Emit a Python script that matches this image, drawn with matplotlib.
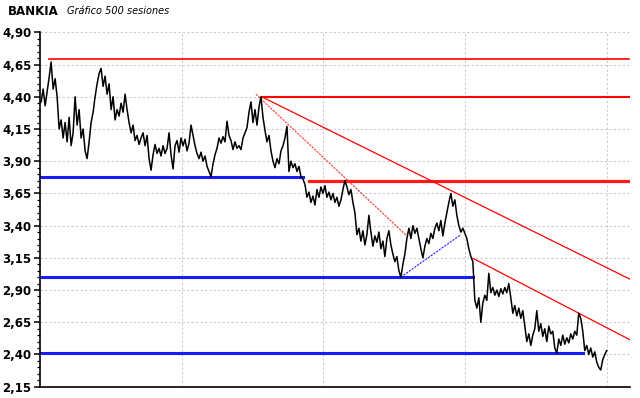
import numpy as np
import matplotlib
matplotlib.use("Agg")
import matplotlib.pyplot as plt
from matplotlib.ticker import FixedLocator, FuncFormatter


# -----------------------------
# DATA
# -----------------------------

close = [
    4.36, 4.46, 4.33, 4.44, 4.55, 4.67, 4.46, 4.54, 4.40, 4.15,
    4.22, 4.08, 4.20, 4.05, 4.24, 4.02, 4.12, 4.40, 4.18, 4.30,
    4.08, 4.15, 3.98, 3.92, 4.05, 4.20, 4.28, 4.40, 4.50, 4.58,
    4.62, 4.48, 4.56, 4.42, 4.50, 4.30, 4.40, 4.22, 4.30, 4.25,
    4.35, 4.28, 4.42, 4.30, 4.20, 4.12, 4.18, 4.06, 4.10, 4.03,
    4.08, 4.12, 4.02, 4.10, 3.92, 3.83, 3.95, 4.03, 3.96, 4.00,
    3.94, 4.02, 3.96, 4.00, 4.12, 3.95, 3.84, 4.02, 4.06, 3.97,
    4.08, 4.02, 4.07, 3.98, 4.04, 4.18, 4.10, 4.02, 3.96, 3.92,
    3.97, 3.90, 3.94, 3.86, 3.82, 3.78, 3.88, 3.95, 4.00, 4.08,
    4.04, 4.09, 4.05, 4.21, 4.10, 4.06, 3.99, 4.05, 4.00, 4.02,
    3.99, 4.08, 4.12, 4.16, 4.28, 4.36, 4.20, 4.30, 4.18, 4.32,
    4.40, 4.24, 4.14, 4.05, 4.10, 3.98, 3.90, 3.85, 3.92, 3.88,
    3.98, 4.02, 4.08, 4.17, 3.82, 3.90, 3.85, 3.88, 3.82, 3.86,
    3.78, 3.76, 3.72, 3.62, 3.66, 3.58, 3.63, 3.56, 3.68, 3.62,
    3.70, 3.65, 3.71, 3.62, 3.66, 3.60, 3.65, 3.58, 3.62, 3.55,
    3.60, 3.68, 3.75, 3.70, 3.64, 3.68, 3.58, 3.50, 3.33, 3.38,
    3.28, 3.36, 3.25, 3.33, 3.48, 3.35, 3.24, 3.32, 3.27, 3.35,
    3.22, 3.28, 3.16, 3.30, 3.36, 3.25, 3.18, 3.12, 3.16, 3.05,
    3.00, 3.10, 3.18, 3.30, 3.38, 3.30, 3.40, 3.34, 3.38, 3.30,
    3.22, 3.15, 3.24, 3.30, 3.26, 3.34, 3.30, 3.38, 3.42, 3.36,
    3.44, 3.32, 3.42, 3.50, 3.58, 3.65, 3.55, 3.60, 3.48, 3.40,
    3.35, 3.38, 3.34, 3.30, 3.22, 3.16, 3.12, 2.82, 2.76, 2.84,
    2.65, 2.80, 2.86, 2.82, 3.03, 2.88, 2.92, 2.86, 2.90, 2.85,
    2.91, 2.87, 2.92, 2.88, 2.95, 2.84, 2.72, 2.78, 2.70, 2.76,
    2.68, 2.74, 2.62, 2.50, 2.56, 2.47, 2.55, 2.60, 2.74, 2.58,
    2.64, 2.54, 2.60, 2.50, 2.62, 2.56, 2.58, 2.45, 2.41, 2.52,
    2.47, 2.55, 2.48, 2.53, 2.49, 2.56, 2.52, 2.58, 2.55, 2.72,
    2.68, 2.58, 2.43, 2.47, 2.40, 2.45, 2.38, 2.42, 2.34, 2.30,
    2.28, 2.36, 2.40, 2.43,
]

n_sessions = 500
sessions = np.linspace(1, n_sessions, len(close))

# support / resistance levels: (price, start session, end session)
support_levels = [
    (3.775, 0, 232),
    (3.00, 0, 382),
    (2.41, 0, 479),
]
resistance_levels = [
    (4.69, 8, 520),
    (4.40, 196, 520),
    (3.75, 237, 520),
]

# trend lines: (session0, price0, session1, price1)
trend_main = (195.5, 4.40, 520.3, 2.985)
trend_low = (382.1, 3.146, 520.3, 2.515)
trend_fast = (190.5, 4.42, 322.8, 3.327)
trend_up = (318.3, 3.00, 371.3, 3.33)

y_ticks = [2.15, 2.40, 2.65, 2.90, 3.15, 3.40, 3.65, 3.90, 4.15, 4.40, 4.65, 4.90]
y_min, y_max = y_ticks[0], y_ticks[-1]
grid_sessions = [125, 250, 375, 500]


# -----------------------------
# FIGURE
# -----------------------------

fig = plt.figure(figsize=(6.4, 3.98), dpi=100)
ax = fig.add_axes([0.0625, 0.0284, 0.9215, 0.8904])

ax.set_xlim(0, 520.3)
ax.set_ylim(y_min, y_max)

# grid
for gy in y_ticks:
    ax.axhline(gy, color="#c9c9d6", linestyle=(0, (2, 2)), linewidth=0.8, zorder=0)
for gx in grid_sessions:
    ax.axvline(gx, color="#c9c9d6", linestyle=(0, (2, 2)), linewidth=0.8, zorder=0)

# horizontal levels
for price, s0, s1 in support_levels:
    ax.plot([s0, s1], [price, price], color="#1a1aff", linewidth=2.2, zorder=2)

ax.plot([resistance_levels[0][1], resistance_levels[0][2]],
        [resistance_levels[0][0]] * 2, color="#ff0000", linewidth=1.2, zorder=2)
ax.plot([resistance_levels[1][1], resistance_levels[1][2]],
        [resistance_levels[1][0]] * 2, color="#ff0000", linewidth=1.5, zorder=2)
ax.plot([resistance_levels[2][1], resistance_levels[2][2]],
        [resistance_levels[2][0]] * 2, color="#ff1a1a", linewidth=2.3, zorder=2)

# trend lines
ax.plot([trend_main[0], trend_main[2]], [trend_main[1], trend_main[3]],
        color="#ff0000", linewidth=0.9, zorder=2)
ax.plot([trend_low[0], trend_low[2]], [trend_low[1], trend_low[3]],
        color="#ff0000", linewidth=0.9, zorder=2)
ax.plot([trend_fast[0], trend_fast[2]], [trend_fast[1], trend_fast[3]],
        color="#ff3030", linewidth=0.8, linestyle=(0, (2, 1)), zorder=2)
ax.plot([trend_up[0], trend_up[2]], [trend_up[1], trend_up[3]],
        color="#2020ff", linewidth=0.8, linestyle=(0, (2, 1)), zorder=2)

# price
ax.plot(sessions, close, color="black", linewidth=1.1, zorder=3)


# -----------------------------
# AXES STYLE
# -----------------------------

ax.spines["top"].set_visible(False)
ax.spines["right"].set_visible(False)
ax.spines["left"].set_linewidth(1.2)
ax.spines["bottom"].set_linewidth(1.2)

ax.set_xticks([])
ax.yaxis.set_major_locator(FixedLocator(y_ticks))
ax.yaxis.set_minor_locator(FixedLocator(np.arange(y_min, y_max + 0.001, 0.05)))
ax.yaxis.set_major_formatter(
    FuncFormatter(lambda v, pos: f"{v:.2f}".replace(".", ","))
)
ax.tick_params(axis="y", which="major", length=4, width=1.1, pad=2,
               labelsize=8.5, direction="out")
ax.tick_params(axis="y", which="minor", length=2.5, width=0.9, direction="out")
for lbl in ax.get_yticklabels():
    lbl.set_fontweight("bold")

# title
fig.text(0.012, 0.972, "BANKIA", fontsize=8.5, fontweight="bold",
         va="center", ha="left")
fig.text(0.104, 0.972, "Gráfico 500 sesiones", fontsize=7, style="italic",
         va="center", ha="left")

plt.savefig("out.png", dpi=100)
plt.close()
